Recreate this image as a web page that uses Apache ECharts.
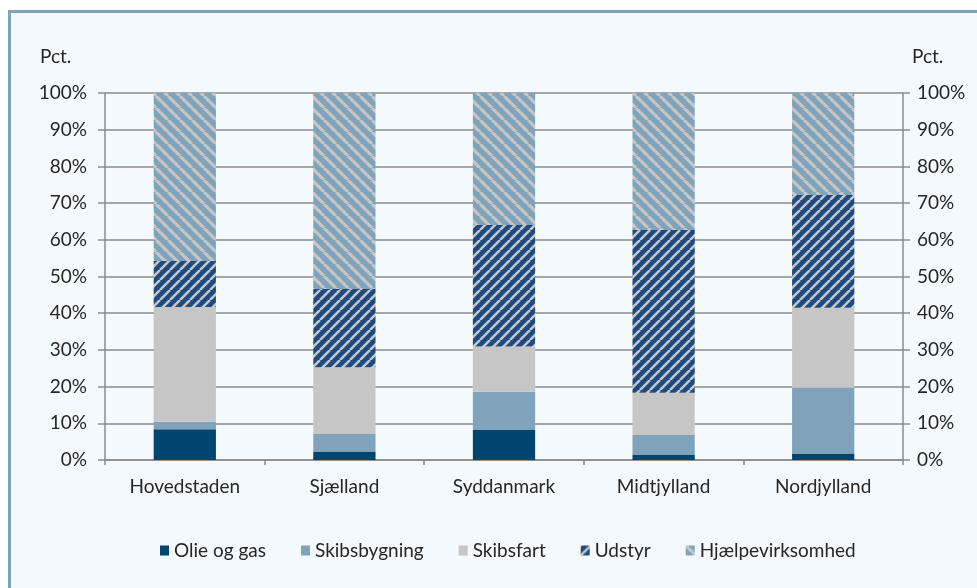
<!DOCTYPE html>
<html>
<head>
<meta charset="utf-8">
<script src="https://cdn.jsdelivr.net/npm/echarts@6/dist/echarts.min.js"></script>
<style>
  html, body { margin: 0; padding: 0; background: #ffffff; overflow: hidden; }
  #frame {
    position: absolute; left: 8px; top: 10px; width: 1000px; height: 600px;
    border: 3px solid #7fa3ba; background: #f4f9fd; box-sizing: border-box;
  }
  #main { position: absolute; left: 0; top: 0; width: 977px; height: 588px; }
</style>
</head>
<body>
<div id="frame"></div>
<div id="main"></div>
<script>
// regioner
var categories = ['Hovedstaden', 'Sjælland', 'Syddanmark', 'Midtjylland', 'Nordjylland']
var yTicks = [0, 10, 20, 30, 40, 50, 60, 70, 80, 90, 100]
// andele i pct. (stablet til 100)
var olieOgGas = [8.4, 2.3, 8.2, 1.5, 1.8]
var skibsbygning = [2.0, 4.8, 10.4, 5.3, 17.9]
var skibsfart = [31.3, 18.2, 12.3, 11.5, 21.8]
var udstyr = [12.5, 21.3, 33.1, 44.4, 30.7]
var hjaelpe = [45.8, 53.4, 36.0, 37.3, 27.8]

// skraveret fyld
function stripes(bg, fg, dir, size, lw) {
  var c = document.createElement('canvas')
  c.width = size
  c.height = size
  var g = c.getContext('2d')
  g.fillStyle = bg
  g.fillRect(0, 0, size, size)
  g.strokeStyle = fg
  g.lineWidth = lw
  g.beginPath()
  ;[-size, 0, size].forEach(function (k) {
    if (dir === '/') {
      g.moveTo(k, size)
      g.lineTo(k + size, 0)
    } else {
      g.moveTo(k, 0)
      g.lineTo(k + size, size)
    }
  })
  g.stroke()
  return { image: c, repeat: 'repeat' }
}

var txt = '#262626'
var axisGrey = '#8a8a8a'
var font = 'Lato, "Open Sans", sans-serif'
var fs = 19

function bar(name, data, color) {
  return {
    name: name,
    type: 'bar',
    stack: 'total',
    barWidth: '39%',
    data: data,
    itemStyle: { color: color },
  }
}

var chart = echarts.init(document.getElementById('main'))
chart.setOption({
  animation: false,
  textStyle: { fontFamily: font },
  grid: { left: 105, right: 74, top: 93, bottom: 128 },
  graphic: [
    { type: 'text', left: 40, top: 47, style: { text: 'Pct.', fontSize: fs, fill: txt, fontFamily: font } },
    { type: 'text', left: 912, top: 47, style: { text: 'Pct.', fontSize: fs, fill: txt, fontFamily: font } },
  ],
  legend: {
    left: 155,
    top: 536,
    itemWidth: 9,
    itemHeight: 10,
    itemGap: 35,
    icon: 'rect',
    textStyle: { fontSize: fs, color: txt, fontFamily: font },
    data: ['Olie og gas', 'Skibsbygning', 'Skibsfart', 'Udstyr', 'Hjælpevirksomhed'],
  },
  xAxis: {
    type: 'category',
    data: categories,
    axisLine: { lineStyle: { color: axisGrey, width: 1.5 } },
    axisTick: { show: true, length: 5, lineStyle: { color: axisGrey, width: 1.5 } },
    axisLabel: { fontSize: fs, color: txt, margin: 17 },
  },
  yAxis: [
    {
      type: 'value',
      min: yTicks[0],
      max: yTicks[yTicks.length - 1],
      interval: 10,
      axisLine: { show: true, lineStyle: { color: axisGrey, width: 1.5 } },
      axisTick: { show: true, length: 7, lineStyle: { color: axisGrey, width: 1.5 } },
      splitLine: { show: true, lineStyle: { color: axisGrey, width: 1.5 } },
      axisLabel: { fontSize: fs, color: txt, margin: 18, formatter: '{value}%' },
    },
    {
      type: 'value',
      position: 'right',
      min: yTicks[0],
      max: yTicks[yTicks.length - 1],
      interval: 10,
      axisLine: { show: true, lineStyle: { color: axisGrey, width: 1.5 } },
      axisTick: { show: true, length: 7, lineStyle: { color: axisGrey, width: 1.5 } },
      splitLine: { show: false },
      axisLabel: { fontSize: fs, color: txt, margin: 14, formatter: '{value}%' },
    },
  ],
  series: [
    bar('Olie og gas', olieOgGas, '#00456e'),
    bar('Skibsbygning', skibsbygning, '#7fa3ba'),
    bar('Skibsfart', skibsfart, '#c6c6c6'),
    bar('Udstyr', udstyr, stripes('#1d4a80', '#c6c6c6', '/', 10, 2.6)),
    bar('Hjælpevirksomhed', hjaelpe, stripes('#7fa3ba', '#c6c6c6', '\\', 12, 3.2)),
  ],
})
</script>
</body>
</html>
